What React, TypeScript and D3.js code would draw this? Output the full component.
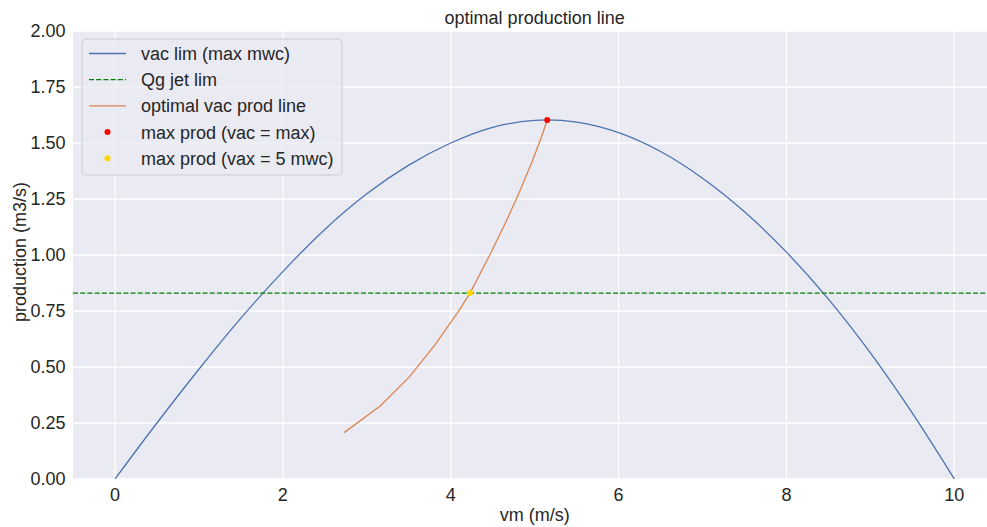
import React from "react";
import * as d3 from "d3";

const vacLimVm = [0, 0.5, 1.0, 1.5, 2.0, 2.5, 3.0, 3.5, 4.0, 4.5, 5.0, 5.15, 5.5, 6.0, 6.5, 7.0, 7.5, 8.0, 8.5, 9.0, 9.5, 10];
const vacLimQ = [0, 0.25, 0.49, 0.718, 0.926, 1.114, 1.273, 1.401, 1.5, 1.57, 1.601, 1.603, 1.593, 1.546, 1.462, 1.343, 1.193, 1.013, 0.803, 0.563, 0.294, 0];
const optVm = [2.73, 3.16, 3.51, 3.81, 4.09, 4.23, 4.47, 4.65, 4.81, 4.97, 5.08, 5.15];
const optQ = [0.207, 0.326, 0.457, 0.598, 0.747, 0.83, 1.003, 1.142, 1.273, 1.417, 1.526, 1.603];
const qgJetLim = 0.83;
const maxProd = { vm: 5.15, q: 1.603 };
const maxProd5 = { vm: 4.23, q: 0.83 };
const xTicks = [0, 2, 4, 6, 8, 10];
const yTicks = [0, 0.25, 0.5, 0.75, 1.0, 1.25, 1.5, 1.75, 2.0];
const legendLabels = ["vac lim (max mwc)", "Qg jet lim", "optimal vac prod line", "max prod (vac = max)", "max prod (vax = 5 mwc)"];

const W = 987, H = 527;
const FONT = "'Liberation Sans', Arial, Helvetica, sans-serif";
const BLUE = "#4c72b0", ORANGE = "#dd8452", GREEN = "#008000", RED = "#ff0000", GOLD = "#ffd700";

export default function App() {
  const x = d3.scaleLinear().domain([-0.5, 10.5]).range([73, 996.3]);
  const y = d3.scaleLinear().domain([0, 2]).range([479, 31]);
  const blue = vacLimVm.map((v, i) => [v, vacLimQ[i]] as [number, number]);
  const orange = optVm.map((v, i) => [v, optQ[i]] as [number, number]);
  const lineSmooth = d3.line<[number, number]>().x(d => x(d[0])).y(d => y(d[1])).curve(d3.curveMonotoneX);
  const lineLin = d3.line<[number, number]>().x(d => x(d[0])).y(d => y(d[1]));
  const [x0, x1] = x.range();
  const [yb, yt] = y.range();
  const lg = { x: 82, y: 39, w: 260, h: 136, row0: 53.5, dy: 26.2 };
  return (
    <svg width={W} height={H} style={{ position: "absolute", left: 0, top: 0, background: "#fff" }} fontFamily={FONT}>
      <defs>
        <clipPath id="plot"><rect x={x0} y={yt} width={x1 - x0} height={yb - yt} /></clipPath>
      </defs>
      <rect x={x0} y={yt} width={x1 - x0} height={yb - yt} fill="#eaeaf2" />
      {xTicks.map(t => (
        <line key={"gx" + t} x1={x(t)} x2={x(t)} y1={yt} y2={yb} stroke="#fff" strokeWidth={1.3} />
      ))}
      {yTicks.map(t => (
        <line key={"gy" + t} x1={x0} x2={x1} y1={y(t)} y2={y(t)} stroke="#fff" strokeWidth={1.3} />
      ))}
      <g clipPath="url(#plot)">
        <path d={lineSmooth(blue) || ""} fill="none" stroke={BLUE} strokeWidth={1.3} />
        <line x1={x0} x2={x1} y1={y(qgJetLim)} y2={y(qgJetLim)} stroke={GREEN} strokeWidth={1.3} strokeDasharray="5,2.2" />
        <path d={lineLin(orange) || ""} fill="none" stroke={ORANGE} strokeWidth={1.3} />
        <circle cx={x(maxProd.vm)} cy={y(maxProd.q)} r={3} fill={RED} />
        <circle cx={x(maxProd5.vm)} cy={y(maxProd5.q)} r={3} fill={GOLD} />
      </g>
      {xTicks.map(t => (
        <text key={"tx" + t} x={x(t)} y={501} textAnchor="middle" fontSize={18} fill="#262626">{d3.format("d")(t)}</text>
      ))}
      {yTicks.map(t => (
        <text key={"ty" + t} x={65.5} y={y(t) + 6.4} textAnchor="end" fontSize={18} fill="#262626">{d3.format(".2f")(t)}</text>
      ))}
      <text x={(x0 + x1) / 2} y={521} textAnchor="middle" fontSize={18} fill="#262626">vm (m/s)</text>
      <text transform={`translate(25.5,${(yt + yb) / 2 - 3}) rotate(-90)`} textAnchor="middle" fontSize={18} fill="#262626">production (m3/s)</text>
      <text x={(x0 + x1) / 2} y={24} textAnchor="middle" fontSize={18} fill="#262626">optimal production line</text>
      <g>
        <rect x={lg.x} y={lg.y} width={lg.w} height={lg.h} rx={4} ry={4} fill="#eaeaf2" fillOpacity={0.8} stroke="#cccccc" strokeWidth={1} />
        {legendLabels.map((lab, i) => {
          const cy = lg.row0 + i * lg.dy;
          let handle;
          if (i === 0) handle = <line x1={89} x2={126} y1={cy} y2={cy} stroke={BLUE} strokeWidth={1.3} />;
          else if (i === 1) handle = <line x1={89} x2={126} y1={cy} y2={cy} stroke={GREEN} strokeWidth={1.3} strokeDasharray="5,2.2" />;
          else if (i === 2) handle = <line x1={89} x2={126} y1={cy} y2={cy} stroke={ORANGE} strokeWidth={1.3} />;
          else handle = <circle cx={107.5} cy={cy} r={3} fill={i === 3 ? RED : GOLD} />;
          return (
            <g key={lab}>
              {handle}
              <text x={141} y={cy + 6.4} fontSize={18} fill="#262626">{lab}</text>
            </g>
          );
        })}
      </g>
    </svg>
  );
}
